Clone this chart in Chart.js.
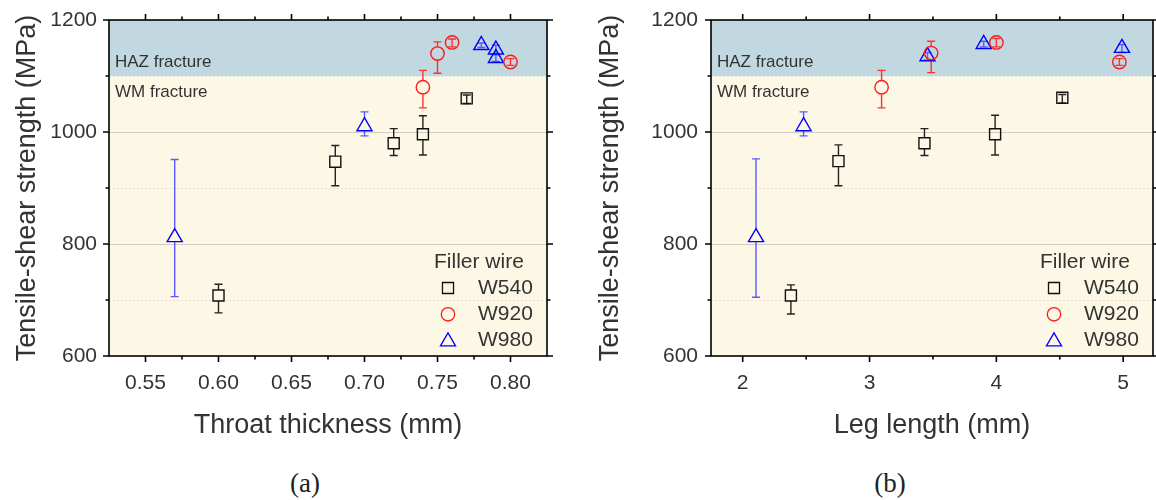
<!DOCTYPE html>
<html>
<head>
<meta charset="utf-8">
<script src="https://cdn.jsdelivr.net/npm/chart.js@4"></script>
<style>
  body { margin: 0; background: #fff; width: 1156px; height: 500px; overflow: hidden; position: relative; }
  .box { position: absolute; top: 0; width: 578px; height: 450px; }
  .cap { position: absolute; top: 468px; line-height: 30px; font-family: "Liberation Serif", "Times New Roman", serif;
         font-size: 27px; color: #222; transform: translateX(-50%); }
</style>
</head>
<body>
<div class="box" style="left:0"><canvas id="chart-throat" width="578" height="450"></canvas></div>
<div class="box" style="left:578px"><canvas id="chart-leg" width="578" height="450"></canvas></div>
<div class="cap" style="left:305px">(a)</div>
<div class="cap" style="left:890px">(b)</div>

<script>
// --- data ---
const seriesNames = ["W540", "W920", "W980"];
const strengthTicks = [600, 800, 1000, 1200];
const strengthMinor = [700, 900, 1100];
const throatTicks = [0.55, 0.60, 0.65, 0.70, 0.75, 0.80];
const throatMinor = [0.575, 0.625, 0.675, 0.725, 0.775];
const legTicks = [2, 3, 4, 5];
const legMinor = [2.5, 3.5, 4.5];

// (a) throat thickness
const w540Throat = [0.60, 0.68, 0.72, 0.74, 0.77];
const w540ThroatUts = [708, 947, 980, 996, 1060];
const w540ThroatLow = [677, 904, 958, 959, 1051];
const w540ThroatHigh = [728, 976, 1006, 1029, 1066];

const w920Throat = [0.74, 0.75, 0.76, 0.80];
const w920ThroatUts = [1080, 1140, 1160, 1125];
const w920ThroatLow = [1043, 1105, 1152, 1119];
const w920ThroatHigh = [1110, 1161, 1166, 1131];

const w980Throat = [0.57, 0.70, 0.78, 0.79, 0.79];
const w980ThroatUts = [812, 1010, 1155, 1147, 1132];
const w980ThroatLow = [706, 993, 1151, 1140, 1126];
const w980ThroatHigh = [951, 1036, 1159, 1155, 1138];

// (b) leg length
const w540Leg = [2.38, 2.755, 3.433, 3.99, 4.52];
const w540LegUts = [708, 948, 980, 996, 1061];
const w540LegLow = [675, 904, 958, 959, 1052];
const w540LegHigh = [727, 977, 1006, 1030, 1067];

const w920Leg = [3.095, 3.486, 4.0, 4.97];
const w920LegUts = [1080, 1141, 1160, 1125];
const w920LegLow = [1043, 1106, 1152, 1119];
const w920LegHigh = [1110, 1162, 1167, 1131];

const w980Leg = [2.105, 2.48, 3.457, 3.9, 4.99];
const w980LegUts = [812, 1010, 1135, 1157, 1150];
const w980LegLow = [705, 993, 1128, 1152, 1142];
const w980LegHigh = [952, 1036, 1142, 1162, 1156];

const TEXT = "#333";
const SANS = '"Liberation Sans", Arial, sans-serif';
Chart.defaults.font.family = SANS;
Chart.defaults.color = TEXT;

function points(xs, ys, lo, hi) {
  return xs.map((x, i) => ({ x: x, y: ys[i], yMin: lo[i], yMax: hi[i] }));
}

// marker look per series
const markers = [
  { style: "rect", radius: 7.8, color: "#111", bar: "#222", gapUp: 5.5, gapDown: 5.5 },
  { style: "circle", radius: 6.7, color: "#ff1a1a", bar: "#ff3030", gapUp: 6.7, gapDown: 6.7 },
  { style: "triangle", radius: 8.7, color: "#0000ff", bar: "#5a5aff", gapUp: 8.7, gapDown: 4.4 }
];

function makeDatasets(sets) {
  return sets.map((data, i) => ({
    label: seriesNames[i],
    data: data,
    pointStyle: markers[i].style,
    pointRadius: markers[i].radius,
    pointHoverRadius: markers[i].radius,
    borderColor: markers[i].color,
    pointBorderWidth: 1.4,
    backgroundColor: "rgba(0,0,0,0)",
    showLine: false
  }));
}

// --- plugins ---
const bands = {
  id: "bands",
  beforeDraw(chart) {
    const { ctx, chartArea: a, scales: { y } } = chart;
    const yCut = y.getPixelForValue(1100);
    ctx.save();
    ctx.fillStyle = "#fdf8e6";
    ctx.fillRect(a.left, yCut, a.right - a.left, a.bottom - yCut);
    ctx.fillStyle = "#c1d8e0";
    ctx.fillRect(a.left, a.top, a.right - a.left, yCut - a.top);
    // grid lines
    ctx.lineWidth = 1;
    [800, 1000].forEach(v => {
      const py = Math.round(y.getPixelForValue(v)) + 0.5;
      ctx.strokeStyle = "#d2cdc2";
      ctx.beginPath(); ctx.moveTo(a.left, py); ctx.lineTo(a.right, py); ctx.stroke();
    });
    ctx.setLineDash([2, 2]);
    [700, 900].forEach(v => {
      const py = Math.round(y.getPixelForValue(v)) + 0.5;
      ctx.strokeStyle = "#f0d9cf";
      ctx.beginPath(); ctx.moveTo(a.left, py); ctx.lineTo(a.right, py); ctx.stroke();
    });
    ctx.strokeStyle = "#dde3df";
    ctx.beginPath(); ctx.moveTo(a.left, Math.round(yCut) + 0.5); ctx.lineTo(a.right, Math.round(yCut) + 0.5); ctx.stroke();
    ctx.restore();
  }
};

const errorBars = {
  id: "errorBars",
  beforeDatasetsDraw(chart) {
    const { ctx, scales: { x, y } } = chart;
    ctx.save();
    ctx.lineWidth = 1.4;
    chart.data.datasets.forEach((ds, i) => {
      const m = markers[i];
      ctx.strokeStyle = m.bar;
      ds.data.forEach(p => {
        const px = x.getPixelForValue(p.x);
        const py = y.getPixelForValue(p.y);
        const top = y.getPixelForValue(p.yMax);
        const bot = y.getPixelForValue(p.yMin);
        ctx.beginPath();
        const upStart = (py - top > m.gapUp + 1) ? py - m.gapUp : py;
        const downStart = (bot - py > m.gapDown + 1) ? py + m.gapDown : py;
        ctx.moveTo(px, upStart); ctx.lineTo(px, top);
        ctx.moveTo(px, downStart); ctx.lineTo(px, bot);
        ctx.moveTo(px - 4, top); ctx.lineTo(px + 4, top);
        ctx.moveTo(px - 4, bot); ctx.lineTo(px + 4, bot);
        ctx.stroke();
      });
    });
    ctx.restore();
  }
};

function drawMarker(ctx, style, cx, cy, r, color) {
  ctx.save();
  ctx.strokeStyle = color;
  ctx.lineWidth = 1.3;
  ctx.beginPath();
  if (style === "rect") {
    const s = r * Math.SQRT1_2;
    ctx.rect(cx - s, cy - s, 2 * s, 2 * s);
  } else if (style === "circle") {
    ctx.arc(cx, cy, r, 0, Math.PI * 2);
  } else {
    ctx.moveTo(cx, cy - r);
    ctx.lineTo(cx + r * Math.sin(Math.PI * 2 / 3), cy + r / 2);
    ctx.lineTo(cx - r * Math.sin(Math.PI * 2 / 3), cy + r / 2);
    ctx.closePath();
  }
  ctx.stroke();
  ctx.restore();
}

const frame = {
  id: "frame",
  afterDraw(chart, args, opts) {
    const { ctx, chartArea: a, scales: { x, y } } = chart;
    ctx.save();
    // fracture labels
    ctx.fillStyle = TEXT;
    ctx.font = "17px " + SANS;
    ctx.textBaseline = "middle";
    ctx.fillText("HAZ fracture", a.left + 6, 62);
    ctx.fillText("WM fracture", a.left + 6, 92);

    // legend
    ctx.font = "21px " + SANS;
    ctx.fillText("Filler wire", a.right - 113, 262);
    seriesNames.forEach((name, i) => {
      const ly = 288 + i * 26.3;
      drawMarker(ctx, markers[i].style, a.right - 99, ly + (i === 2 ? 1 : 0), markers[i].radius, markers[i].color);
      ctx.fillStyle = TEXT;
      ctx.fillText(name, a.right - 69, ly);
    });

    // box + ticks on all sides
    ctx.strokeStyle = "#000";
    ctx.lineWidth = 1.6;
    ctx.strokeRect(a.left, a.top, a.right - a.left, a.bottom - a.top);
    ctx.beginPath();
    const xt = (v, len) => {
      const px = x.getPixelForValue(v);
      ctx.moveTo(px, a.bottom); ctx.lineTo(px, a.bottom + len);
      ctx.moveTo(px, a.top); ctx.lineTo(px, a.top - len);
    };
    const yt = (v, len) => {
      const py = y.getPixelForValue(v);
      ctx.moveTo(a.left, py); ctx.lineTo(a.left - len, py);
      ctx.moveTo(a.right, py); ctx.lineTo(a.right + len, py);
    };
    opts.major.forEach(v => xt(v, 6));
    opts.minor.forEach(v => xt(v, 3.5));
    strengthTicks.forEach(v => yt(v, 6));
    strengthMinor.forEach(v => yt(v, 3.5));
    ctx.stroke();
    ctx.restore();
  }
};

function makeChart(id, sets, xCfg) {
  const ctx = document.getElementById(id).getContext("2d");
  return new Chart(ctx, {
    type: "scatter",
    data: { datasets: makeDatasets(sets) },
    options: {
      responsive: false,
      animation: false,
      events: [],
      layout: { autoPadding: false, padding: { top: 20, right: xCfg.padRight, left: 0, bottom: 0 } },
      plugins: {
        legend: { display: false },
        tooltip: { enabled: false },
        frame: { major: xCfg.major, minor: xCfg.minor }
      },
      scales: {
        x: {
          type: "linear",
          min: xCfg.min,
          max: xCfg.max,
          afterBuildTicks: s => { s.ticks = xCfg.major.map(v => ({ value: v })); },
          afterFit: s => { s.height = 94; s.paddingLeft = 0; s.paddingRight = 0; },
          grid: { display: false, drawTicks: false },
          border: { display: false },
          ticks: { padding: 15, font: { size: 21 }, color: TEXT, maxRotation: 0, callback: xCfg.fmt },
          title: { display: true, text: xCfg.title, font: { size: 27 }, color: TEXT, padding: 8 }
        },
        y: {
          type: "linear",
          min: 600,
          max: 1200,
          afterBuildTicks: s => { s.ticks = strengthTicks.map(v => ({ value: v })); },
          afterFit: s => { s.width = xCfg.yWidth; s.paddingTop = 0; s.paddingBottom = 0; },
          grid: { display: false, drawTicks: false },
          border: { display: false },
          ticks: { padding: xCfg.yPad, font: { size: 21 }, color: TEXT, callback: v => String(v) },
          title: { display: true, text: "Tensile-shear strength (MPa)", font: { size: 27 }, color: TEXT, padding: xCfg.yTitlePad }
        }
      }
    },
    plugins: [bands, errorBars, frame]
  });
}

// --- (a) Throat thickness ---
makeChart("chart-throat", [
  points(w540Throat, w540ThroatUts, w540ThroatLow, w540ThroatHigh),
  points(w920Throat, w920ThroatUts, w920ThroatLow, w920ThroatHigh),
  points(w980Throat, w980ThroatUts, w980ThroatLow, w980ThroatHigh)
], {
  min: 0.525, max: 0.825, major: throatTicks, minor: throatMinor,
  fmt: v => v.toFixed(2), title: "Throat thickness (mm)",
  padRight: 31, yWidth: 109, yPad: 12, yTitlePad: 11
});

// --- (b) Leg length ---
makeChart("chart-leg", [
  points(w540Leg, w540LegUts, w540LegLow, w540LegHigh),
  points(w920Leg, w920LegUts, w920LegLow, w920LegHigh),
  points(w980Leg, w980LegUts, w980LegLow, w980LegHigh)
], {
  min: 1.75, max: 5.235, major: legTicks, minor: legMinor,
  fmt: v => String(v), title: "Leg length (mm)",
  padRight: 3, yWidth: 133, yPad: 13, yTitlePad: 16
});
</script>
</body>
</html>
